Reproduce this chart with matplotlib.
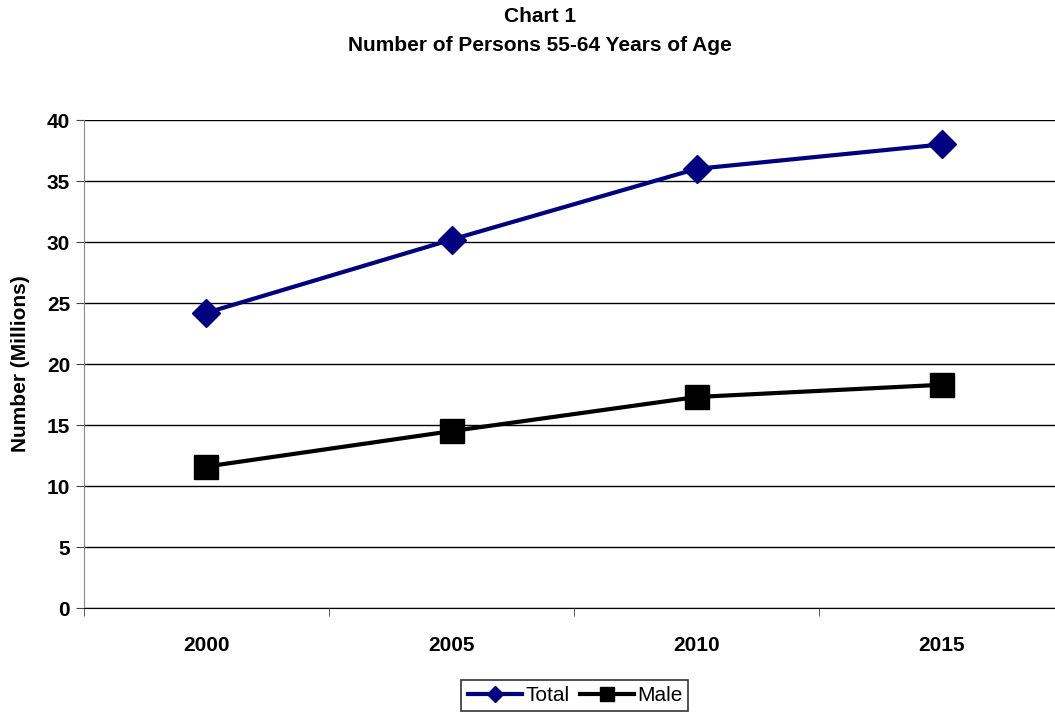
import matplotlib
matplotlib.use("Agg")
import matplotlib.pyplot as plt

plt.rcParams['font.family'] = ['Liberation Sans', 'DejaVu Sans']

# Persons aged 55-64, millions
years = ['2000', '2005', '2010', '2015']
total = [24.2, 30.2, 36.0, 38.0]
male = [11.6, 14.5, 17.3, 18.3]

fig = plt.figure(figsize=(10.55, 7.12), dpi=100)
ax = fig.add_axes([0.0796, 0.146, 0.929, 0.6854])

x = range(len(years))
ax.plot(x, total, color='#000080', lw=3, marker='D', ms=14, label='Total', zorder=3)
ax.plot(x, male, color='black', lw=3, marker='s', ms=17, label='Male', zorder=3)

ax.set_xlim(-0.5, 3.5)
ax.set_ylim(0, 40)
ax.set_yticks(range(0, 41, 5))
ax.set_xticks(list(x))
ax.set_xticklabels(years)
ax.set_xticks([-0.5, 0.5, 1.5, 2.5], minor=True)
ax.tick_params(axis='x', which='major', length=0, pad=20, labelsize=15)
ax.tick_params(axis='x', which='minor', length=6, direction='out', color='#444444')
ax.tick_params(axis='y', length=6, direction='out', labelsize=15, pad=4, color='#444444')
for lbl in ax.get_xticklabels() + ax.get_yticklabels():
    lbl.set_fontweight('bold')

ax.grid(axis='y', color='black', lw=1)
ax.set_axisbelow(True)
for side in ['top', 'right']:
    ax.spines[side].set_visible(False)
ax.spines['left'].set_color('#888888')
ax.spines['bottom'].set_color('black')

ax.set_ylabel('Number (Millions)', fontsize=15, fontweight='bold', labelpad=12)

fig.text(0.512, 0.977, 'Chart 1', ha='center', va='center', fontsize=15, fontweight='bold')
fig.text(0.512, 0.936, 'Number of Persons 55-64 Years of Age', ha='center', va='center',
         fontsize=15, fontweight='bold')

leg = ax.legend(loc='upper center', bbox_to_anchor=(0.545, 0.045),
                bbox_transform=fig.transFigure, ncol=2, fontsize=15, frameon=True,
                fancybox=False, edgecolor='black', handlelength=2.6, handletextpad=0.15,
                columnspacing=0.5, borderpad=0.3, borderaxespad=0, markerscale=0.6)
leg.get_frame().set_linewidth(1.2)

fig.savefig('out.png', dpi=100)
